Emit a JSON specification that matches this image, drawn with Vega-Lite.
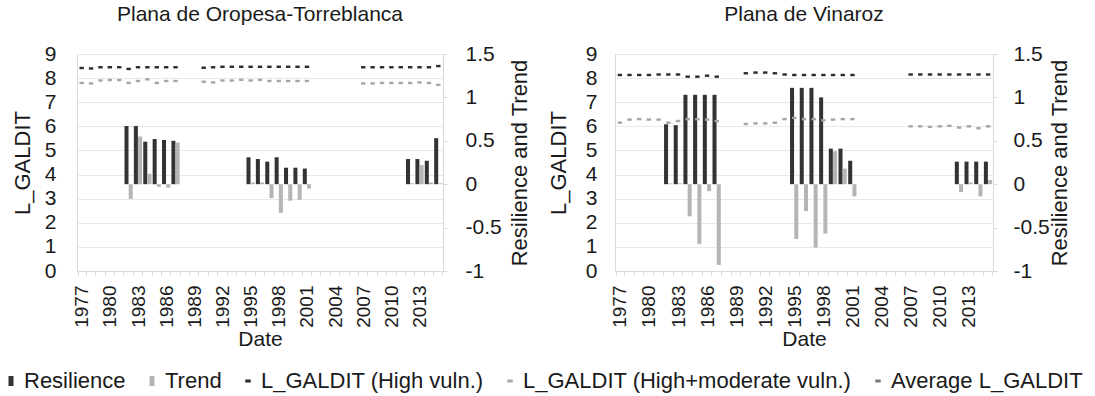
{
  "$schema": "https://vega.github.io/schema/vega-lite/v6.json",
  "padding": {"left": 0, "right": 4, "top": 4, "bottom": 2},
  "background": "white",
  "config": {
    "font": "Liberation Sans",
    "view": {"stroke": null},
    "axis": {
      "labelFont": "Liberation Sans", "titleFont": "Liberation Sans",
      "labelColor": "#1a1a1a", "titleColor": "#1a1a1a", "titleFontWeight": "normal",
      "domainColor": "#d9d9d9", "tickColor": "#d9d9d9", "gridColor": "#e8e8e8",
      "labelFontSize": 21, "titleFontSize": 22
    },
    "title": {"font": "Liberation Sans", "fontSize": 21, "fontWeight": "normal", "color": "#1a1a1a"},
    "legend": {"labelFont": "Liberation Sans", "labelFontSize": 22, "labelColor": "#1a1a1a", "labelLimit": 0}
  },
  "datasets": {
    "oropesa": [
      {"s": "Resilience", "year": 1982, "v": 0.67}, {"s": "Resilience", "year": 1983, "v": 0.67}, {"s": "Resilience", "year": 1984, "v": 0.49}, {"s": "Resilience", "year": 1985, "v": 0.52}, {"s": "Resilience", "year": 1986, "v": 0.51}, {"s": "Resilience", "year": 1987, "v": 0.5},
      {"s": "Resilience", "year": 1995, "v": 0.31}, {"s": "Resilience", "year": 1996, "v": 0.29}, {"s": "Resilience", "year": 1997, "v": 0.26}, {"s": "Resilience", "year": 1998, "v": 0.31}, {"s": "Resilience", "year": 1999, "v": 0.19}, {"s": "Resilience", "year": 2000, "v": 0.19}, {"s": "Resilience", "year": 2001, "v": 0.18},
      {"s": "Resilience", "year": 2012, "v": 0.29}, {"s": "Resilience", "year": 2013, "v": 0.29}, {"s": "Resilience", "year": 2014, "v": 0.27}, {"s": "Resilience", "year": 2015, "v": 0.53},
      {"s": "Trend", "year": 1982, "v": -0.17}, {"s": "Trend", "year": 1983, "v": 0.55}, {"s": "Trend", "year": 1984, "v": 0.12}, {"s": "Trend", "year": 1985, "v": -0.03}, {"s": "Trend", "year": 1986, "v": -0.04}, {"s": "Trend", "year": 1987, "v": 0.48},
      {"s": "Trend", "year": 1995, "v": 0.02}, {"s": "Trend", "year": 1996, "v": 0.02}, {"s": "Trend", "year": 1997, "v": -0.16}, {"s": "Trend", "year": 1998, "v": -0.33}, {"s": "Trend", "year": 1999, "v": -0.19}, {"s": "Trend", "year": 2000, "v": -0.18}, {"s": "Trend", "year": 2001, "v": -0.05},
      {"s": "Trend", "year": 2012, "v": 0.01}, {"s": "Trend", "year": 2013, "v": 0.22}, {"s": "Trend", "year": 2014, "v": 0.02}, {"s": "Trend", "year": 2015, "v": 0.01},
      {"s": "L_GALDIT (High vuln.)", "year": 1977, "v": 8.42}, {"s": "L_GALDIT (High vuln.)", "year": 1978, "v": 8.4}, {"s": "L_GALDIT (High vuln.)", "year": 1979, "v": 8.45}, {"s": "L_GALDIT (High vuln.)", "year": 1980, "v": 8.45}, {"s": "L_GALDIT (High vuln.)", "year": 1981, "v": 8.45}, {"s": "L_GALDIT (High vuln.)", "year": 1982, "v": 8.38}, {"s": "L_GALDIT (High vuln.)", "year": 1983, "v": 8.45}, {"s": "L_GALDIT (High vuln.)", "year": 1984, "v": 8.45}, {"s": "L_GALDIT (High vuln.)", "year": 1985, "v": 8.45}, {"s": "L_GALDIT (High vuln.)", "year": 1986, "v": 8.45}, {"s": "L_GALDIT (High vuln.)", "year": 1987, "v": 8.45},
      {"s": "L_GALDIT (High vuln.)", "year": 1990, "v": 8.43}, {"s": "L_GALDIT (High vuln.)", "year": 1991, "v": 8.45}, {"s": "L_GALDIT (High vuln.)", "year": 1992, "v": 8.47}, {"s": "L_GALDIT (High vuln.)", "year": 1993, "v": 8.47}, {"s": "L_GALDIT (High vuln.)", "year": 1994, "v": 8.47}, {"s": "L_GALDIT (High vuln.)", "year": 1995, "v": 8.47}, {"s": "L_GALDIT (High vuln.)", "year": 1996, "v": 8.47}, {"s": "L_GALDIT (High vuln.)", "year": 1997, "v": 8.47}, {"s": "L_GALDIT (High vuln.)", "year": 1998, "v": 8.47}, {"s": "L_GALDIT (High vuln.)", "year": 1999, "v": 8.47}, {"s": "L_GALDIT (High vuln.)", "year": 2000, "v": 8.47}, {"s": "L_GALDIT (High vuln.)", "year": 2001, "v": 8.47},
      {"s": "L_GALDIT (High vuln.)", "year": 2007, "v": 8.45}, {"s": "L_GALDIT (High vuln.)", "year": 2008, "v": 8.45}, {"s": "L_GALDIT (High vuln.)", "year": 2009, "v": 8.45}, {"s": "L_GALDIT (High vuln.)", "year": 2010, "v": 8.45}, {"s": "L_GALDIT (High vuln.)", "year": 2011, "v": 8.45}, {"s": "L_GALDIT (High vuln.)", "year": 2012, "v": 8.45}, {"s": "L_GALDIT (High vuln.)", "year": 2013, "v": 8.45}, {"s": "L_GALDIT (High vuln.)", "year": 2014, "v": 8.45}, {"s": "L_GALDIT (High vuln.)", "year": 2015, "v": 8.5},
      {"s": "L_GALDIT (High+moderate vuln.)", "year": 1977, "v": 7.8}, {"s": "L_GALDIT (High+moderate vuln.)", "year": 1978, "v": 7.78}, {"s": "L_GALDIT (High+moderate vuln.)", "year": 1979, "v": 7.9}, {"s": "L_GALDIT (High+moderate vuln.)", "year": 1980, "v": 7.92}, {"s": "L_GALDIT (High+moderate vuln.)", "year": 1981, "v": 7.92}, {"s": "L_GALDIT (High+moderate vuln.)", "year": 1982, "v": 7.8}, {"s": "L_GALDIT (High+moderate vuln.)", "year": 1983, "v": 7.88}, {"s": "L_GALDIT (High+moderate vuln.)", "year": 1984, "v": 7.95}, {"s": "L_GALDIT (High+moderate vuln.)", "year": 1985, "v": 7.8}, {"s": "L_GALDIT (High+moderate vuln.)", "year": 1986, "v": 7.88}, {"s": "L_GALDIT (High+moderate vuln.)", "year": 1987, "v": 7.88},
      {"s": "L_GALDIT (High+moderate vuln.)", "year": 1990, "v": 7.85}, {"s": "L_GALDIT (High+moderate vuln.)", "year": 1991, "v": 7.82}, {"s": "L_GALDIT (High+moderate vuln.)", "year": 1992, "v": 7.9}, {"s": "L_GALDIT (High+moderate vuln.)", "year": 1993, "v": 7.9}, {"s": "L_GALDIT (High+moderate vuln.)", "year": 1994, "v": 7.93}, {"s": "L_GALDIT (High+moderate vuln.)", "year": 1995, "v": 7.9}, {"s": "L_GALDIT (High+moderate vuln.)", "year": 1996, "v": 7.93}, {"s": "L_GALDIT (High+moderate vuln.)", "year": 1997, "v": 7.88}, {"s": "L_GALDIT (High+moderate vuln.)", "year": 1998, "v": 7.88}, {"s": "L_GALDIT (High+moderate vuln.)", "year": 1999, "v": 7.88}, {"s": "L_GALDIT (High+moderate vuln.)", "year": 2000, "v": 7.88}, {"s": "L_GALDIT (High+moderate vuln.)", "year": 2001, "v": 7.88},
      {"s": "L_GALDIT (High+moderate vuln.)", "year": 2007, "v": 7.78}, {"s": "L_GALDIT (High+moderate vuln.)", "year": 2008, "v": 7.78}, {"s": "L_GALDIT (High+moderate vuln.)", "year": 2009, "v": 7.8}, {"s": "L_GALDIT (High+moderate vuln.)", "year": 2010, "v": 7.8}, {"s": "L_GALDIT (High+moderate vuln.)", "year": 2011, "v": 7.8}, {"s": "L_GALDIT (High+moderate vuln.)", "year": 2012, "v": 7.8}, {"s": "L_GALDIT (High+moderate vuln.)", "year": 2013, "v": 7.82}, {"s": "L_GALDIT (High+moderate vuln.)", "year": 2014, "v": 7.8}, {"s": "L_GALDIT (High+moderate vuln.)", "year": 2015, "v": 7.72}
    ],
    "vinaroz": [
      {"s": "Resilience", "year": 1982, "v": 0.69}, {"s": "Resilience", "year": 1983, "v": 0.68}, {"s": "Resilience", "year": 1984, "v": 1.03}, {"s": "Resilience", "year": 1985, "v": 1.03}, {"s": "Resilience", "year": 1986, "v": 1.03}, {"s": "Resilience", "year": 1987, "v": 1.03},
      {"s": "Resilience", "year": 1995, "v": 1.11}, {"s": "Resilience", "year": 1996, "v": 1.11}, {"s": "Resilience", "year": 1997, "v": 1.11}, {"s": "Resilience", "year": 1998, "v": 1.0}, {"s": "Resilience", "year": 1999, "v": 0.41}, {"s": "Resilience", "year": 2000, "v": 0.41}, {"s": "Resilience", "year": 2001, "v": 0.27},
      {"s": "Resilience", "year": 2012, "v": 0.26}, {"s": "Resilience", "year": 2013, "v": 0.26}, {"s": "Resilience", "year": 2014, "v": 0.26}, {"s": "Resilience", "year": 2015, "v": 0.26},
      {"s": "Trend", "year": 1982, "v": 0.01}, {"s": "Trend", "year": 1983, "v": 0.01}, {"s": "Trend", "year": 1984, "v": -0.37}, {"s": "Trend", "year": 1985, "v": -0.69}, {"s": "Trend", "year": 1986, "v": -0.08}, {"s": "Trend", "year": 1987, "v": -0.93},
      {"s": "Trend", "year": 1995, "v": -0.63}, {"s": "Trend", "year": 1996, "v": -0.31}, {"s": "Trend", "year": 1997, "v": -0.73}, {"s": "Trend", "year": 1998, "v": -0.57}, {"s": "Trend", "year": 1999, "v": 0.38}, {"s": "Trend", "year": 2000, "v": 0.18}, {"s": "Trend", "year": 2001, "v": -0.14},
      {"s": "Trend", "year": 2012, "v": -0.09}, {"s": "Trend", "year": 2013, "v": 0.02}, {"s": "Trend", "year": 2014, "v": -0.14}, {"s": "Trend", "year": 2015, "v": 0.05},
      {"s": "L_GALDIT (High vuln.)", "year": 1977, "v": 8.13}, {"s": "L_GALDIT (High vuln.)", "year": 1978, "v": 8.13}, {"s": "L_GALDIT (High vuln.)", "year": 1979, "v": 8.13}, {"s": "L_GALDIT (High vuln.)", "year": 1980, "v": 8.13}, {"s": "L_GALDIT (High vuln.)", "year": 1981, "v": 8.15}, {"s": "L_GALDIT (High vuln.)", "year": 1982, "v": 8.15}, {"s": "L_GALDIT (High vuln.)", "year": 1983, "v": 8.15}, {"s": "L_GALDIT (High vuln.)", "year": 1984, "v": 8.06}, {"s": "L_GALDIT (High vuln.)", "year": 1985, "v": 8.06}, {"s": "L_GALDIT (High vuln.)", "year": 1986, "v": 8.1}, {"s": "L_GALDIT (High vuln.)", "year": 1987, "v": 8.06},
      {"s": "L_GALDIT (High vuln.)", "year": 1990, "v": 8.2}, {"s": "L_GALDIT (High vuln.)", "year": 1991, "v": 8.23}, {"s": "L_GALDIT (High vuln.)", "year": 1992, "v": 8.23}, {"s": "L_GALDIT (High vuln.)", "year": 1993, "v": 8.2}, {"s": "L_GALDIT (High vuln.)", "year": 1994, "v": 8.15}, {"s": "L_GALDIT (High vuln.)", "year": 1995, "v": 8.13}, {"s": "L_GALDIT (High vuln.)", "year": 1996, "v": 8.13}, {"s": "L_GALDIT (High vuln.)", "year": 1997, "v": 8.13}, {"s": "L_GALDIT (High vuln.)", "year": 1998, "v": 8.13}, {"s": "L_GALDIT (High vuln.)", "year": 1999, "v": 8.13}, {"s": "L_GALDIT (High vuln.)", "year": 2000, "v": 8.13}, {"s": "L_GALDIT (High vuln.)", "year": 2001, "v": 8.13},
      {"s": "L_GALDIT (High vuln.)", "year": 2007, "v": 8.15}, {"s": "L_GALDIT (High vuln.)", "year": 2008, "v": 8.15}, {"s": "L_GALDIT (High vuln.)", "year": 2009, "v": 8.15}, {"s": "L_GALDIT (High vuln.)", "year": 2010, "v": 8.15}, {"s": "L_GALDIT (High vuln.)", "year": 2011, "v": 8.15}, {"s": "L_GALDIT (High vuln.)", "year": 2012, "v": 8.15}, {"s": "L_GALDIT (High vuln.)", "year": 2013, "v": 8.15}, {"s": "L_GALDIT (High vuln.)", "year": 2014, "v": 8.15}, {"s": "L_GALDIT (High vuln.)", "year": 2015, "v": 8.15},
      {"s": "L_GALDIT (High+moderate vuln.)", "year": 1977, "v": 6.15}, {"s": "L_GALDIT (High+moderate vuln.)", "year": 1978, "v": 6.28}, {"s": "L_GALDIT (High+moderate vuln.)", "year": 1979, "v": 6.3}, {"s": "L_GALDIT (High+moderate vuln.)", "year": 1980, "v": 6.28}, {"s": "L_GALDIT (High+moderate vuln.)", "year": 1981, "v": 6.28}, {"s": "L_GALDIT (High+moderate vuln.)", "year": 1982, "v": 6.15}, {"s": "L_GALDIT (High+moderate vuln.)", "year": 1983, "v": 6.22}, {"s": "L_GALDIT (High+moderate vuln.)", "year": 1984, "v": 6.3}, {"s": "L_GALDIT (High+moderate vuln.)", "year": 1985, "v": 6.3}, {"s": "L_GALDIT (High+moderate vuln.)", "year": 1986, "v": 6.28}, {"s": "L_GALDIT (High+moderate vuln.)", "year": 1987, "v": 6.22},
      {"s": "L_GALDIT (High+moderate vuln.)", "year": 1990, "v": 6.1}, {"s": "L_GALDIT (High+moderate vuln.)", "year": 1991, "v": 6.12}, {"s": "L_GALDIT (High+moderate vuln.)", "year": 1992, "v": 6.12}, {"s": "L_GALDIT (High+moderate vuln.)", "year": 1993, "v": 6.15}, {"s": "L_GALDIT (High+moderate vuln.)", "year": 1994, "v": 6.3}, {"s": "L_GALDIT (High+moderate vuln.)", "year": 1995, "v": 6.35}, {"s": "L_GALDIT (High+moderate vuln.)", "year": 1996, "v": 6.3}, {"s": "L_GALDIT (High+moderate vuln.)", "year": 1997, "v": 6.3}, {"s": "L_GALDIT (High+moderate vuln.)", "year": 1998, "v": 6.25}, {"s": "L_GALDIT (High+moderate vuln.)", "year": 1999, "v": 6.28}, {"s": "L_GALDIT (High+moderate vuln.)", "year": 2000, "v": 6.3}, {"s": "L_GALDIT (High+moderate vuln.)", "year": 2001, "v": 6.3},
      {"s": "L_GALDIT (High+moderate vuln.)", "year": 2007, "v": 6.0}, {"s": "L_GALDIT (High+moderate vuln.)", "year": 2008, "v": 6.0}, {"s": "L_GALDIT (High+moderate vuln.)", "year": 2009, "v": 5.98}, {"s": "L_GALDIT (High+moderate vuln.)", "year": 2010, "v": 6.0}, {"s": "L_GALDIT (High+moderate vuln.)", "year": 2011, "v": 6.02}, {"s": "L_GALDIT (High+moderate vuln.)", "year": 2012, "v": 5.95}, {"s": "L_GALDIT (High+moderate vuln.)", "year": 2013, "v": 6.0}, {"s": "L_GALDIT (High+moderate vuln.)", "year": 2014, "v": 5.92}, {"s": "L_GALDIT (High+moderate vuln.)", "year": 2015, "v": 6.0}
    ]
  },
  "hconcat": [
    {
      "width": 366, "height": 217,
      "title": {"text": "Plana de Oropesa-Torreblanca", "offset": 18},
      "data": {"name": "oropesa"},
      "layer": [
        {
          "transform": [{"filter": {"field": "s", "oneOf": ["Resilience", "Trend"]}}],
          "mark": {"type": "bar", "opacity": 1},
          "encoding": {
            "x": {"field": "year", "type": "ordinal", "scale": {"domain": [1977,1978,1979,1980,1981,1982,1983,1984,1985,1986,1987,1988,1989,1990,1991,1992,1993,1994,1995,1996,1997,1998,1999,2000,2001,2002,2003,2004,2005,2006,2007,2008,2009,2010,2011,2012,2013,2014,2015], "paddingInner": 0.12, "paddingOuter": 0.06},
              "axis": {"title": "Date", "labelAngle": 270, "labelFontSize": 19, "labelExpr": "(datum.value - 1977) % 3 == 0 ? datum.label : ''", "labelOverlap": false, "labelPadding": 10, "tickSize": 4, "tickBand": "extent", "titlePadding": 1, "titleFontSize": 21}},
            "xOffset": {"field": "s", "scale": {"domain": ["Resilience", "Trend"], "paddingInner": 0.05}},
            "y": {"field": "v", "type": "quantitative", "scale": {"domain": [-1, 1.5]},
              "axis": {"orient": "right", "values": [-1, -0.5, 0, 0.5, 1, 1.5], "labelExpr": "'' + datum.value", "title": "Resilience and Trend", "grid": false, "tickSize": 4, "labelPadding": 18, "titleAngle": 270, "titleBaseline": "top", "titlePadding": 8}},
            "color": {"field": "s", "type": "nominal",
              "scale": {"domain": ["Resilience", "Trend", "L_GALDIT (High vuln.)", "L_GALDIT (High+moderate vuln.)", "Average L_GALDIT"], "range": ["#333333", "#b5b5b5", "#2a2a2a", "#a6a6a6", "#7a7a7a"]},
              "legend": {"title": null, "orient": "none", "legendX": -77, "legendY": 316, "direction": "horizontal", "symbolSize": 25, "columnPadding": 15, "labelOffset": 2, "labelLimit": 0, "symbolStrokeWidth": 0}}
          }
        },
        {
          "transform": [{"filter": {"field": "s", "oneOf": ["L_GALDIT (High vuln.)", "L_GALDIT (High+moderate vuln.)", "Average L_GALDIT"]}}],
          "mark": {"type": "point", "filled": true, "size": 16, "opacity": 1},
          "encoding": {
            "x": {"field": "year", "type": "ordinal"},
            "y": {"field": "v", "type": "quantitative", "scale": {"domain": [0, 9]},
              "axis": {"orient": "left", "values": [0, 1, 2, 3, 4, 5, 6, 7, 8, 9], "title": "L_GALDIT", "grid": true, "ticks": false, "labelPadding": 21, "titlePadding": 10}},
            "color": {"field": "s", "type": "nominal"},
            "shape": {"field": "s", "type": "nominal",
              "scale": {"domain": ["Resilience", "Trend", "L_GALDIT (High vuln.)", "L_GALDIT (High+moderate vuln.)", "Average L_GALDIT"], "range": ["M-1,-2H1V2H-1Z", "M-1,-2H1V2H-1Z", "M-1.1,-0.6H1.1V0.6H-1.1Z", "M-1.1,-0.6H1.1V0.6H-1.1Z", "M-1.1,-0.6H1.1V0.6H-1.1Z"]},
              "legend": {"title": null, "orient": "none", "legendX": -77, "legendY": 316, "direction": "horizontal", "symbolSize": 25, "columnPadding": 15, "labelOffset": 2, "labelLimit": 0, "symbolStrokeWidth": 0}}
          }
        }
      ],
      "resolve": {"scale": {"y": "independent"}}
    },
    {
      "width": 378, "height": 217,
      "title": {"text": "Plana de Vinaroz", "offset": 18},
      "data": {"name": "vinaroz"},
      "layer": [
        {
          "transform": [{"filter": {"field": "s", "oneOf": ["Resilience", "Trend"]}}],
          "mark": {"type": "bar", "opacity": 1},
          "encoding": {
            "x": {"field": "year", "type": "ordinal", "scale": {"domain": [1977,1978,1979,1980,1981,1982,1983,1984,1985,1986,1987,1988,1989,1990,1991,1992,1993,1994,1995,1996,1997,1998,1999,2000,2001,2002,2003,2004,2005,2006,2007,2008,2009,2010,2011,2012,2013,2014,2015], "paddingInner": 0.12, "paddingOuter": 0.06},
              "axis": {"title": "Date", "labelAngle": 270, "labelFontSize": 19, "labelExpr": "(datum.value - 1977) % 3 == 0 ? datum.label : ''", "labelOverlap": false, "labelPadding": 10, "tickSize": 4, "tickBand": "extent", "titlePadding": 1, "titleFontSize": 21}},
            "xOffset": {"field": "s", "scale": {"domain": ["Resilience", "Trend"], "paddingInner": 0.05}},
            "y": {"field": "v", "type": "quantitative", "scale": {"domain": [-1, 1.5]},
              "axis": {"orient": "right", "values": [-1, -0.5, 0, 0.5, 1, 1.5], "labelExpr": "'' + datum.value", "title": "Resilience and Trend", "grid": false, "tickSize": 4, "labelPadding": 16, "titleAngle": 270, "titleBaseline": "top", "titlePadding": 0}},
            "color": {"field": "s", "type": "nominal"}
          }
        },
        {
          "transform": [{"filter": {"field": "s", "oneOf": ["L_GALDIT (High vuln.)", "L_GALDIT (High+moderate vuln.)", "Average L_GALDIT"]}}],
          "mark": {"type": "point", "filled": true, "size": 16, "opacity": 1},
          "encoding": {
            "x": {"field": "year", "type": "ordinal"},
            "y": {"field": "v", "type": "quantitative", "scale": {"domain": [0, 9]},
              "axis": {"orient": "left", "values": [0, 1, 2, 3, 4, 5, 6, 7, 8, 9], "title": "L_GALDIT", "grid": true, "ticks": false, "labelPadding": 18, "titlePadding": 15}},
            "color": {"field": "s", "type": "nominal"},
            "shape": {"field": "s", "type": "nominal"}
          }
        }
      ],
      "resolve": {"scale": {"y": "independent"}}
    }
  ],
  "spacing": 16
}
